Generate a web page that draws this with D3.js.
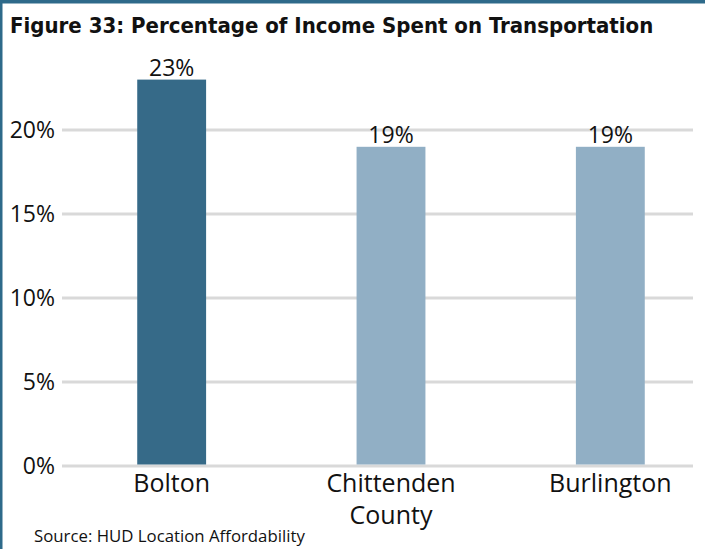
<!DOCTYPE html>
<html>
<head>
<meta charset="utf-8">
<script src="https://cdn.jsdelivr.net/npm/d3@7"></script>
<style>
  body { margin: 0; background: #fff; }
  text { font-family: "Open Sans", "Noto Sans", sans-serif; fill: #111; }
</style>
</head>
<body>
<script>
var categories = ["Bolton", "Chittenden County", "Burlington"];
var values = [23, 19, 19];
var barColors = ["#366a88", "#91afc5", "#91afc5"];
var yTicks = [0, 5, 10, 15, 20];
var title = "Figure 33: Percentage of Income Spent on Transportation";
var source = "Source: HUD Location Affordability";

var w = 705, h = 552;
var svg = d3.select("body").append("svg")
  .attr("width", w)
  .attr("height", h);

// frame
svg.append("rect").attr("x", 0).attr("y", 0).attr("width", w).attr("height", 3.5).attr("fill", "#2e6a8a");
svg.append("rect").attr("x", 0).attr("y", 0).attr("width", 2.5).attr("height", 549).attr("fill", "#2e6a8a");

svg.append("text")
  .attr("x", 10)
  .attr("y", 33)
  .style("font-family", "'DejaVu Sans Condensed', sans-serif")
  .style("font-stretch", "condensed")
  .style("font-weight", "bold")
  .style("font-size", "22px")
  .text(title);

var x = d3.scaleBand()
  .domain(categories)
  .range([62, 720])
  .paddingInner(0.686)
  .paddingOuter(0.343);

var y = d3.scaleLinear()
  .domain([0, 20])
  .range([466, 130]);

// gridlines
svg.append("g")
  .selectAll("line")
  .data(yTicks)
  .enter().append("line")
  .attr("x1", 62)
  .attr("x2", 693)
  .attr("y1", function (d) { return y(d); })
  .attr("y2", function (d) { return y(d); })
  .attr("stroke", "#d9d9d9")
  .attr("stroke-width", 3);

// y labels
svg.append("g")
  .selectAll("text")
  .data(yTicks)
  .enter().append("text")
  .attr("x", 55)
  .attr("y", function (d) { return y(d) + 8; })
  .attr("text-anchor", "end")
  .style("font-size", "23px")
  .text(function (d) { return d + "%"; });

// bars
svg.append("g")
  .selectAll("rect")
  .data(values)
  .enter().append("rect")
  .attr("x", function (d, i) { return x(categories[i]); })
  .attr("width", x.bandwidth())
  .attr("y", function (d) { return y(d); })
  .attr("height", function (d) { return y(0) - y(d) - 1.5; })
  .attr("fill", function (d, i) { return barColors[i]; });

// value labels
svg.append("g")
  .selectAll("text")
  .data(values)
  .enter().append("text")
  .attr("x", function (d, i) { return x(categories[i]) + x.bandwidth() / 2; })
  .attr("y", function (d) { return y(d) - 4; })
  .attr("text-anchor", "middle")
  .style("font-size", "23px")
  .text(function (d) { return d + "%"; });

// category labels, wrapped on spaces when long
var cat = svg.append("g")
  .selectAll("text")
  .data(categories)
  .enter().append("text")
  .attr("text-anchor", "middle")
  .style("font-size", "25px")
  .attr("x", function (d) { return x(d) + x.bandwidth() / 2; })
  .attr("y", 492);

cat.each(function (d) {
  var t = d3.select(this);
  var words = d.length > 12 ? d.split(" ") : [d];
  words.forEach(function (wd, k) {
    t.append("tspan")
      .attr("x", x(d) + x.bandwidth() / 2)
      .attr("dy", k === 0 ? 0 : 32)
      .text(wd);
  });
});

svg.append("text")
  .attr("x", 34)
  .attr("y", 542)
  .style("font-size", "16.8px")
  .text(source);
</script>
</body>
</html>
